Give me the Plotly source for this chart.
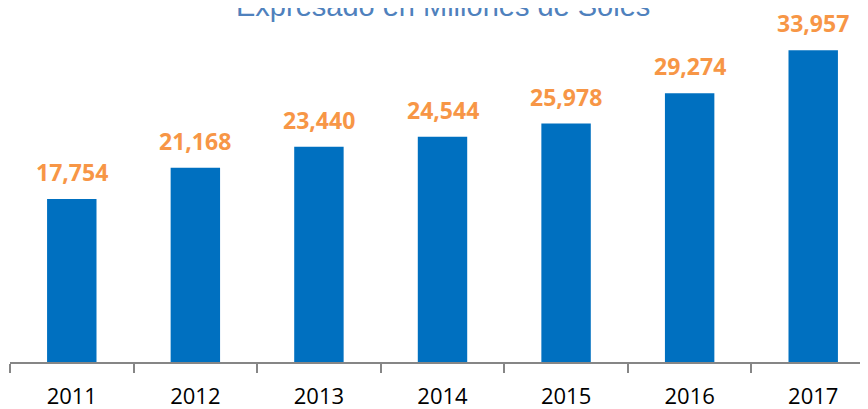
import plotly.graph_objects as go

years = ["2011", "2012", "2013", "2014", "2015", "2016", "2017"]
values = [17754, 21168, 23440, 24544, 25978, 29274, 33957]
labels = ["17,754", "21,168", "23,440", "24,544", "25,978", "29,274", "33,957"]
title_text = "Expresado en Millones de Soles"

fig = go.Figure()
fig.add_trace(go.Bar(x=years, y=values, width=0.4, marker=dict(color="#0070C0", line=dict(width=0)),
                     hoverinfo="skip"))

for i, (v, lab) in enumerate(zip(values, labels)):
    fig.add_annotation(x=i, y=v, text=lab, showarrow=False, yanchor="bottom", yshift=9,
                       font=dict(family="Open Sans", size=23, color="#F79646", weight="bold"))

fig.add_annotation(xref="paper", yref="paper", x=0.5, y=1.073, yanchor="middle", showarrow=False,
                   text=title_text, font=dict(family="Liberation Sans, Arial", size=29, color="#4F81BD"))

fig.update_layout(
    width=868, height=409,
    margin=dict(l=2, r=1, t=22, b=55),
    paper_bgcolor="white", plot_bgcolor="white",
    showlegend=False,
    xaxis=dict(type="category", range=[-0.5, 6.5], tickson="boundaries", ticks="outside", ticklen=9,
               tickcolor="#868686", tickwidth=1.5, showline=True, linecolor="#868686", linewidth=1.5,
               showgrid=False, zeroline=False, ticklabelstandoff=14,
               tickfont=dict(family="Open Sans", size=22, color="#000000")),
    yaxis=dict(range=[0, 36166], visible=False, showgrid=False, zeroline=False),
)

fig.write_html("out.html")
